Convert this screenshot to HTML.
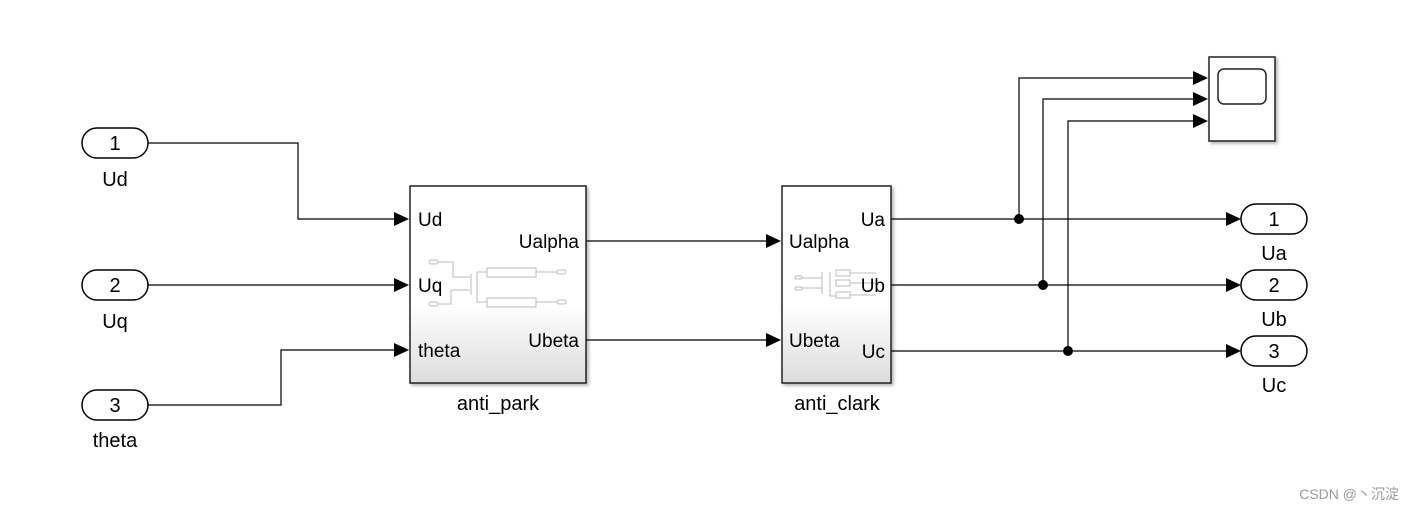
<!DOCTYPE html>
<html><head><meta charset="utf-8"><style>
body{margin:0;background:#fff;width:1414px;height:510px;overflow:hidden}
text{font-family:"Liberation Sans",Arial,sans-serif;fill:#000}
</style></head><body>
<svg width="1414" height="510" viewBox="0 0 1414 510" xmlns="http://www.w3.org/2000/svg">
<defs>
<linearGradient id="g" x1="0" y1="0" x2="0" y2="1">
<stop offset="0" stop-color="#fff"/><stop offset="0.6" stop-color="#fff"/><stop offset="1" stop-color="#dcdcdc"/>
</linearGradient>
<filter id="s" x="-10%" y="-10%" width="130%" height="130%"><feDropShadow dx="2" dy="2" stdDeviation="1.5" flood-color="#000" flood-opacity="0.3"/></filter>
</defs>
<g stroke="#000" stroke-width="1.2" fill="none">
<path d="M148,143H298V219H396"/>
<path d="M148,285H396"/>
<path d="M148,405H281V350H396"/>
<path d="M586,241H768"/>
<path d="M586,340H768"/>
<path d="M891,219H1228"/>
<path d="M891,285H1228"/>
<path d="M891,351H1228"/>
<path d="M1019,219V78H1196"/>
<path d="M1043,285V99H1196"/>
<path d="M1068,351V121H1196"/>
</g>
<g fill="#000">
<path d="M394,212L409,219L394,226Z"/>
<path d="M394,278L409,285L394,292Z"/>
<path d="M394,343L409,350L394,357Z"/>
<path d="M766,234L781,241L766,248Z"/>
<path d="M766,333L781,340L766,347Z"/>
<path d="M1226,212L1241,219L1226,226Z"/>
<path d="M1226,278L1241,285L1226,292Z"/>
<path d="M1226,344L1241,351L1226,358Z"/>
<path d="M1193,71L1208,78L1193,85Z"/>
<path d="M1193,92L1208,99L1193,106Z"/>
<path d="M1193,114L1208,121L1193,128Z"/>
<circle cx="1019" cy="219" r="5"/>
<circle cx="1043" cy="285" r="5"/>
<circle cx="1068" cy="351" r="5"/>
</g>
<g stroke="#000" stroke-width="1.5" fill="#fff">
<rect x="82" y="128" width="66" height="30" rx="15"/>
<rect x="82" y="270" width="66" height="30" rx="15"/>
<rect x="82" y="390" width="66" height="30" rx="15"/>
<rect x="1241" y="204" width="66" height="30" rx="15"/>
<rect x="1241" y="270" width="66" height="30" rx="15"/>
<rect x="1241" y="336" width="66" height="30" rx="15"/>
</g>
<g font-size="20" text-anchor="middle">
<text x="115" y="150">1</text><text x="115" y="292">2</text><text x="115" y="412">3</text>
<text x="1274" y="226">1</text><text x="1274" y="292">2</text><text x="1274" y="358">3</text>
<text x="115" y="186">Ud</text><text x="115" y="328">Uq</text><text x="115" y="447">theta</text>
<text x="1274" y="260">Ua</text><text x="1274" y="326">Ub</text><text x="1274" y="392">Uc</text>
<text x="498" y="410">anti_park</text><text x="837" y="410">anti_clark</text>
</g>
<rect x="410" y="186" width="176" height="197" fill="url(#g)" stroke="#222" stroke-width="1.5" filter="url(#s)"/>
<rect x="782" y="186" width="109" height="197" fill="url(#g)" stroke="#222" stroke-width="1.5" filter="url(#s)"/>
<g stroke="#bbb" stroke-width="1" fill="none">
<rect x="429" y="260" width="9" height="4" rx="2"/><rect x="429" y="302" width="9" height="4" rx="2"/>
<path d="M438,262H453V277H470M438,304H451V290H470M471,274V295M477,272V302H487M477,272H487"/>
<rect x="487" y="268" width="49" height="9"/><rect x="487" y="298" width="49" height="9"/>
<path d="M536,272H557M536,302H557"/>
<rect x="557" y="270" width="9" height="4" rx="2"/><rect x="557" y="300" width="9" height="4" rx="2"/>
<rect x="795" y="276" width="7" height="3" rx="1.5"/><rect x="795" y="287" width="7" height="3" rx="1.5"/>
<path d="M802,278H822M802,288H822M822,272V294M830,272V296H836"/>
<rect x="836" y="270" width="14" height="6"/><rect x="836" y="280" width="14" height="6"/><rect x="836" y="292" width="14" height="6"/>
<path d="M850,273H876M850,283H876M850,295H876"/>
</g>
<g font-size="19">
<text x="418" y="226">Ud</text><text x="418" y="292">Uq</text><text x="418" y="357">theta</text>
<text x="579" y="248" text-anchor="end">Ualpha</text><text x="579" y="347" text-anchor="end">Ubeta</text>
<text x="789" y="248">Ualpha</text><text x="789" y="347">Ubeta</text>
<text x="885" y="226" text-anchor="end">Ua</text><text x="885" y="292" text-anchor="end">Ub</text><text x="885" y="358" text-anchor="end">Uc</text>
</g>
<rect x="1209" y="57" width="66" height="84" fill="#fff" stroke="#222" stroke-width="1.5" filter="url(#s)"/>
<rect x="1218" y="69" width="48" height="35" rx="6" fill="#fff" stroke="#222" stroke-width="1.5"/>
<text x="1399" y="499" font-size="14" text-anchor="end" style="fill:#999;font-family:'Liberation Sans','Noto Sans CJK SC',sans-serif">CSDN @丶沉淀</text>
</svg>
</body></html>
